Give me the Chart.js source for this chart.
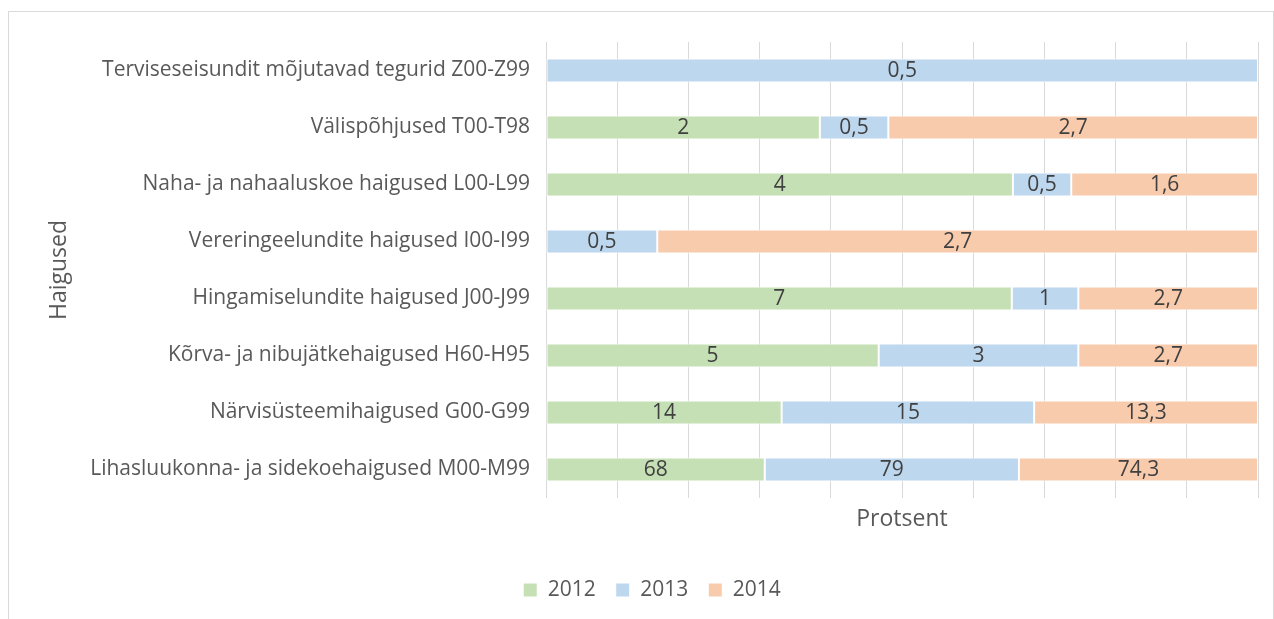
<!DOCTYPE html>
<html>
<head>
<meta charset="utf-8">
<script src="https://cdn.jsdelivr.net/npm/chart.js@4/dist/chart.umd.min.js"></script>
<style>
  html, body { margin: 0; padding: 0; background: #fff; }
  #frame { position: absolute; left: 8px; top: 11px; width: 1264px; height: 640px; border: 1px solid #d9d9d9; }
  #wrap { position: absolute; left: 0; top: 0; width: 1274px; height: 619px; }
</style>
</head>
<body>
<div id="frame"></div>
<div id="wrap"><canvas id="chart"></canvas></div>
<script>
const categories = [
  'Terviseseisundit mõjutavad tegurid Z00-Z99',
  'Välispõhjused T00-T98',
  'Naha- ja nahaaluskoe haigused L00-L99',
  'Vereringeelundite haigused I00-I99',
  'Hingamiselundite haigused J00-J99',
  'Kõrva- ja nibujätkehaigused H60-H95',
  'Närvisüsteemihaigused G00-G99',
  'Lihasluukonna- ja sidekoehaigused M00-M99'
];
const years = ['2012', '2013', '2014'];
const values2012 = [null, 2, 4, null, 7, 5, 14, 68];
const values2013 = [0.5, 0.5, 0.5, 0.5, 1, 3, 15, 79];
const values2014 = [null, 2.7, 1.6, 2.7, 2.7, 2.7, 13.3, 74.3];
const colors = ['#c5e0b4', '#bdd7ee', '#f8cbad'];

const FONT = "'Open Sans', sans-serif";
const series = [values2012, values2013, values2014];
const totals = categories.map((c, i) => series.reduce((s, arr) => s + (arr[i] || 0), 0));
const toPct = arr => arr.map((v, i) => v == null ? null : v / totals[i] * 100);

// draws the raw values in the middle of each segment
const valueLabels = {
  id: 'valueLabels',
  afterDatasetsDraw(chart) {
    const ctx = chart.ctx;
    ctx.save();
    ctx.font = '21px ' + FONT;
    ctx.fillStyle = '#404040';
    ctx.textAlign = 'center';
    ctx.textBaseline = 'middle';
    chart.data.datasets.forEach((ds, di) => {
      chart.getDatasetMeta(di).data.forEach((bar, i) => {
        const raw = ds.rawValues[i];
        if (raw == null) return;
        const cx = (bar.x + bar.base) / 2;
        ctx.fillText(String(raw).replace('.', ','), cx, bar.y + 1);
      });
    });
    ctx.restore();
  }
};

new Chart(document.getElementById('chart'), {
  type: 'bar',
  data: {
    labels: categories,
    datasets: years.map((y, k) => ({
      label: y,
      data: toPct(series[k]),
      rawValues: series[k],
      backgroundColor: colors[k],
      borderColor: '#ffffff',
      borderWidth: 1,
      borderSkipped: false,
      categoryPercentage: 1,
      barPercentage: 0.42
    }))
  },
  options: {
    indexAxis: 'y',
    responsive: true,
    maintainAspectRatio: false,
    animation: false,
    layout: { padding: { left: 46, right: 16, top: 42, bottom: 8.5 } },
    plugins: {
      tooltip: { enabled: false },
      legend: {
        position: 'bottom',
        labels: {
          boxWidth: 14, boxHeight: 14, padding: 20,
          color: '#595959',
          font: { family: FONT, size: 21 }
        }
      }
    },
    scales: {
      x: {
        stacked: true,
        min: 0, max: 100,
        ticks: { display: false, stepSize: 10 },
        grid: { color: '#d9d9d9', lineWidth: 1, drawTicks: false },
        border: { display: false },
        title: {
          display: true, text: 'Protsent', color: '#595959',
          font: { family: FONT, size: 23 },
          padding: { top: 4, bottom: 26.7 }
        },
        afterFit(axis) { axis.height = 61.5; }
      },
      y: {
        stacked: true,
        ticks: { color: '#595959', font: { family: FONT, size: 21 }, padding: 16 },
        grid: { display: false, drawTicks: false },
        border: { display: false },
        title: {
          display: true, text: 'Haigused', color: '#595959',
          font: { family: FONT, size: 23 },
          padding: { top: 0, bottom: 4 }
        },
        afterFit(axis) { axis.width = 500; }
      }
    }
  },
  plugins: [valueLabels]
});
</script>
</body>
</html>
